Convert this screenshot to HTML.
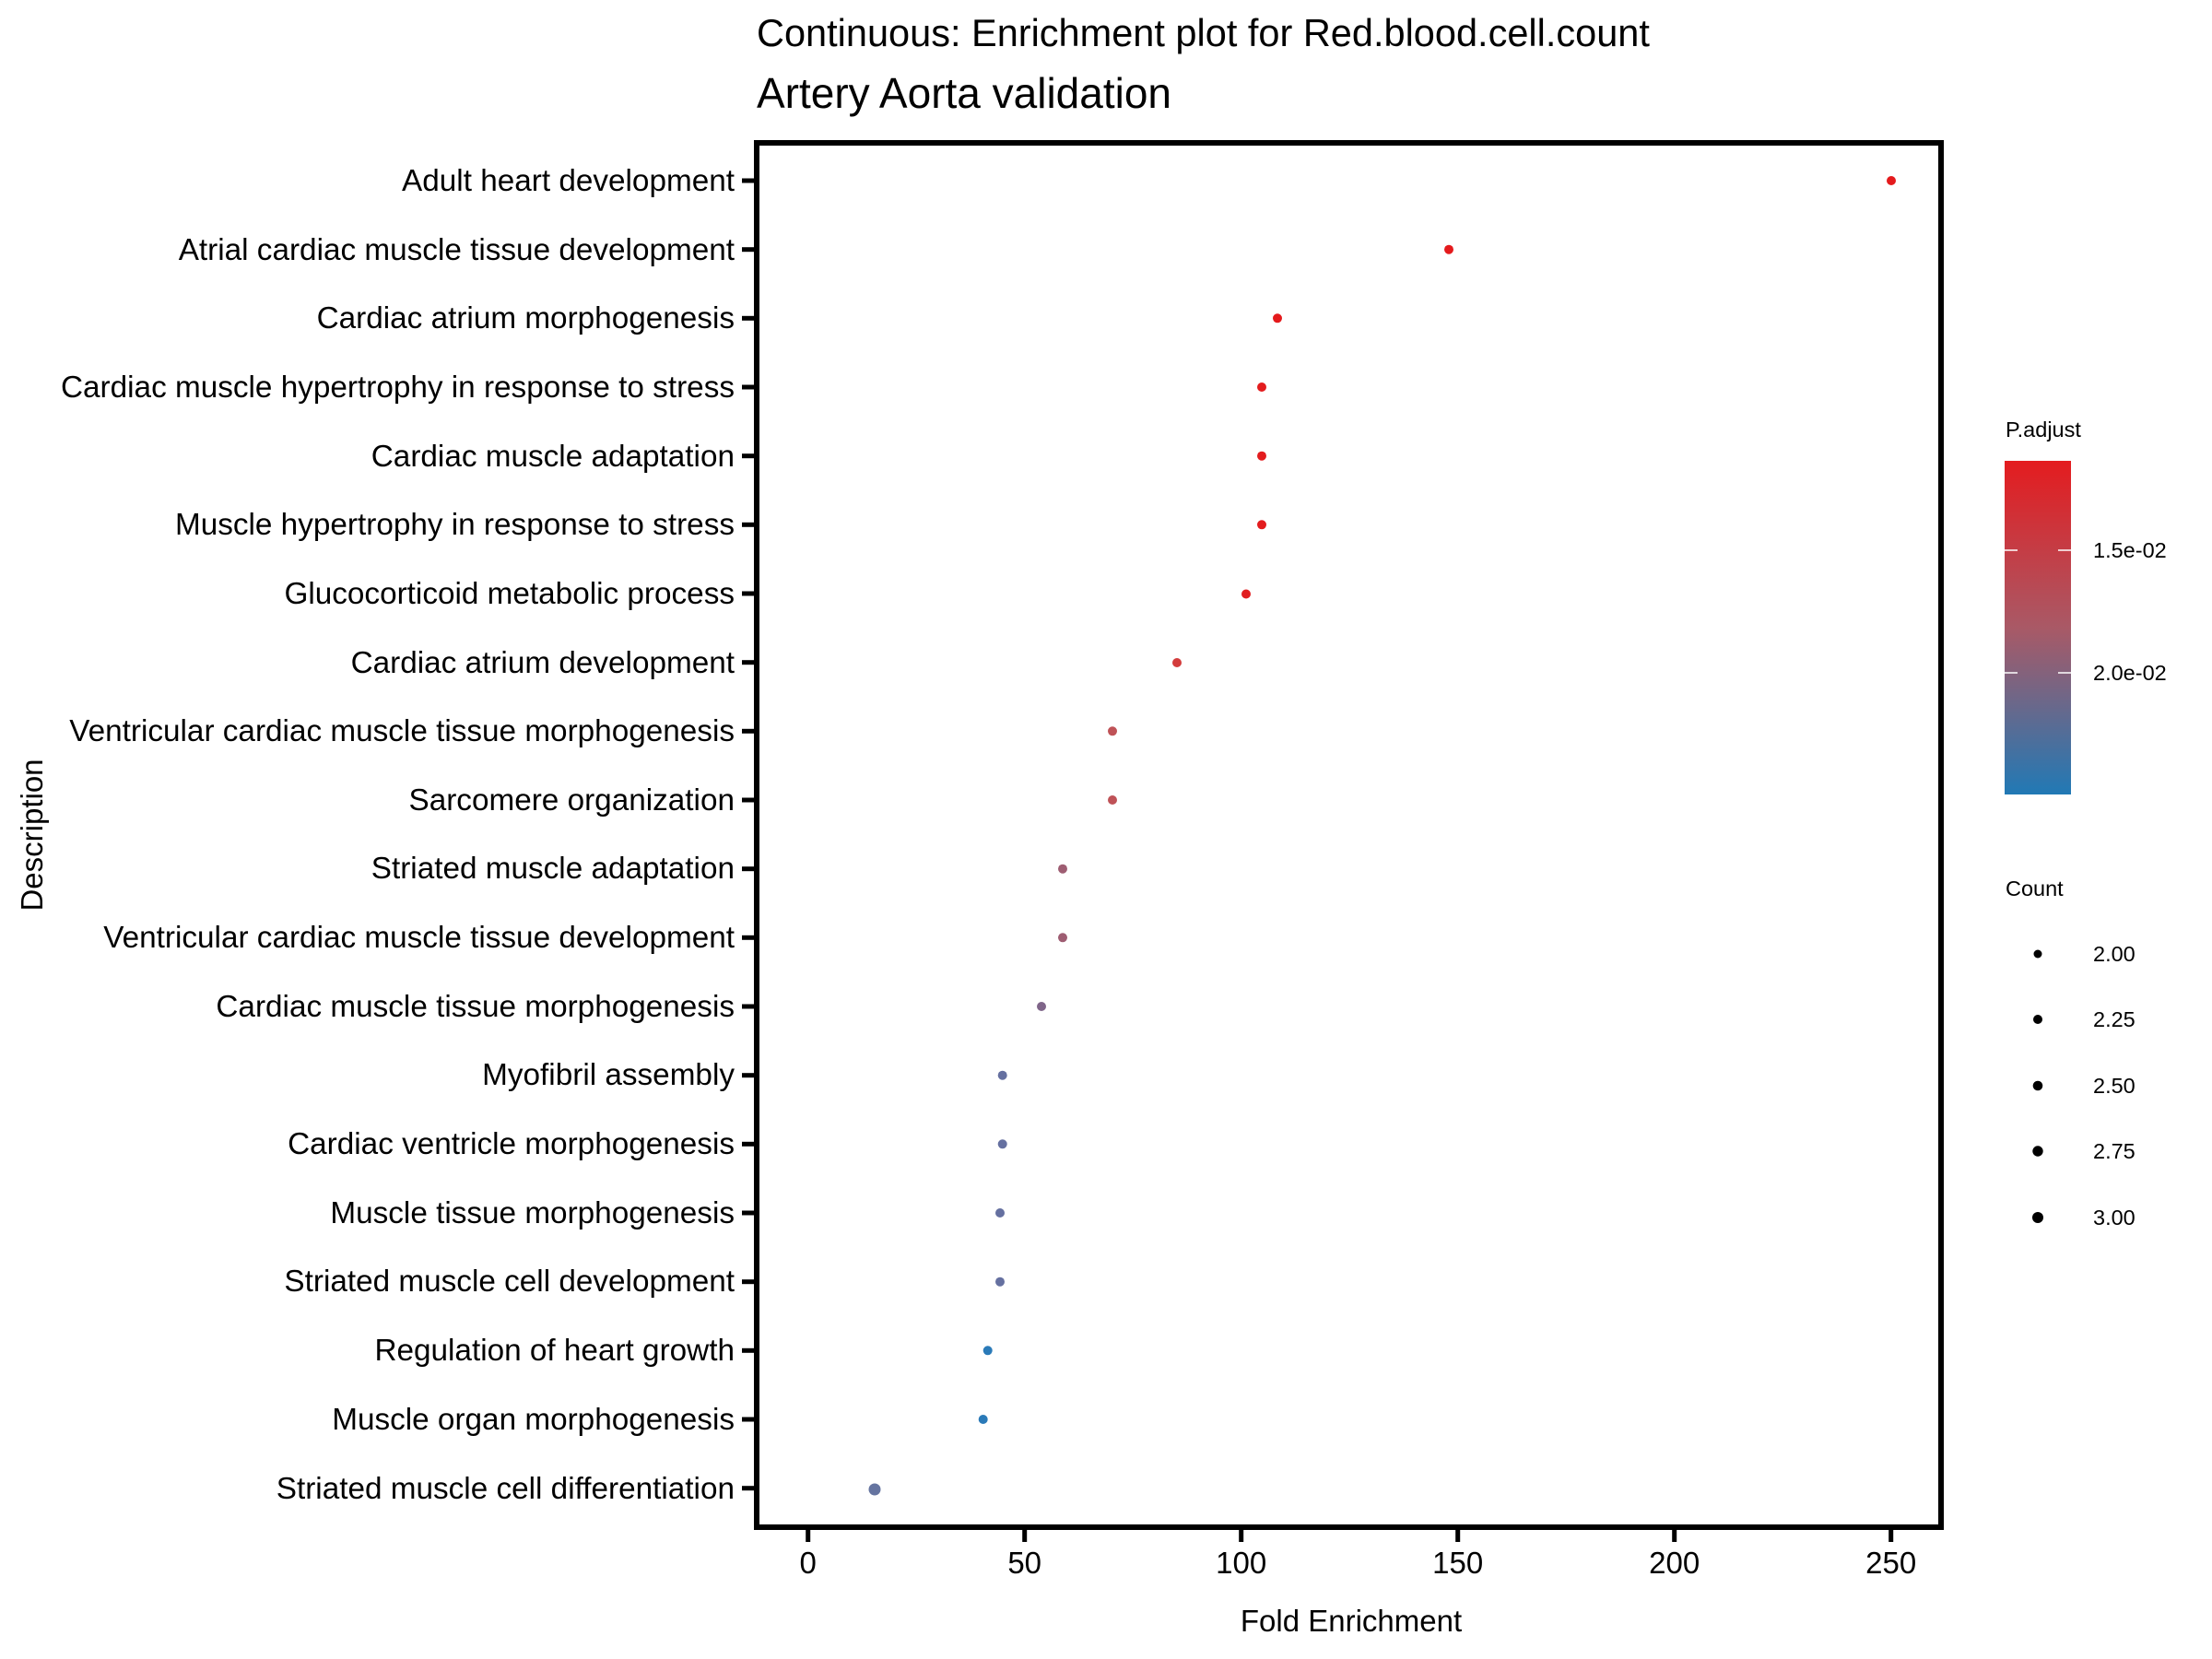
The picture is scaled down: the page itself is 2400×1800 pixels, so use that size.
<!DOCTYPE html>
<html><head><meta charset="utf-8"><style>html,body{margin:0;padding:0;background:#fff}svg{display:block}text{font-family:"Liberation Sans",sans-serif;fill:#000}</style></head>
<body>
<svg width="2400" height="1800" viewBox="0 0 2400 1800" xmlns="http://www.w3.org/2000/svg">
<defs><linearGradient id="g" x1="0" y1="0" x2="0" y2="1"><stop offset="0" stop-color="#e41c1f"/><stop offset="0.5" stop-color="#a95966"/><stop offset="1" stop-color="#2179b5"/></linearGradient></defs>
<rect width="2400" height="1800" fill="#fff"/>
<text x="821" y="50" font-size="41.5">Continuous: Enrichment plot for Red.blood.cell.count</text>
<text x="821" y="117" font-size="46">Artery Aorta validation</text>
<g font-size="33.3" text-anchor="end">
<text x="797" y="207">Adult heart development</text>
<text x="797" y="282">Atrial cardiac muscle tissue development</text>
<text x="797" y="356">Cardiac atrium morphogenesis</text>
<text x="797" y="431">Cardiac muscle hypertrophy in response to stress</text>
<text x="797" y="506">Cardiac muscle adaptation</text>
<text x="797" y="580">Muscle hypertrophy in response to stress</text>
<text x="797" y="655">Glucocorticoid metabolic process</text>
<text x="797" y="730">Cardiac atrium development</text>
<text x="797" y="804">Ventricular cardiac muscle tissue morphogenesis</text>
<text x="797" y="879">Sarcomere organization</text>
<text x="797" y="953">Striated muscle adaptation</text>
<text x="797" y="1028">Ventricular cardiac muscle tissue development</text>
<text x="797" y="1103">Cardiac muscle tissue morphogenesis</text>
<text x="797" y="1177">Myofibril assembly</text>
<text x="797" y="1252">Cardiac ventricle morphogenesis</text>
<text x="797" y="1327">Muscle tissue morphogenesis</text>
<text x="797" y="1401">Striated muscle cell development</text>
<text x="797" y="1476">Regulation of heart growth</text>
<text x="797" y="1551">Muscle organ morphogenesis</text>
<text x="797" y="1626">Striated muscle cell differentiation</text>
</g>
<g stroke="#000" stroke-width="5">
<line x1="805" x2="821" y1="196" y2="196"/><line x1="805" x2="821" y1="270.7" y2="270.7"/><line x1="805" x2="821" y1="345.3" y2="345.3"/><line x1="805" x2="821" y1="420" y2="420"/><line x1="805" x2="821" y1="494.7" y2="494.7"/><line x1="805" x2="821" y1="569.3" y2="569.3"/><line x1="805" x2="821" y1="644" y2="644"/><line x1="805" x2="821" y1="718.7" y2="718.7"/><line x1="805" x2="821" y1="793.3" y2="793.3"/><line x1="805" x2="821" y1="868" y2="868"/><line x1="805" x2="821" y1="942.7" y2="942.7"/><line x1="805" x2="821" y1="1017.3" y2="1017.3"/><line x1="805" x2="821" y1="1092" y2="1092"/><line x1="805" x2="821" y1="1166.7" y2="1166.7"/><line x1="805" x2="821" y1="1241.3" y2="1241.3"/><line x1="805" x2="821" y1="1316" y2="1316"/><line x1="805" x2="821" y1="1390.7" y2="1390.7"/><line x1="805" x2="821" y1="1465.3" y2="1465.3"/><line x1="805" x2="821" y1="1540" y2="1540"/><line x1="805" x2="821" y1="1614.7" y2="1614.7"/>
<line x1="876.7" x2="876.7" y1="1657" y2="1673"/><line x1="1111.7" x2="1111.7" y1="1657" y2="1673"/><line x1="1346.7" x2="1346.7" y1="1657" y2="1673"/><line x1="1581.7" x2="1581.7" y1="1657" y2="1673"/><line x1="1816.7" x2="1816.7" y1="1657" y2="1673"/><line x1="2051.7" x2="2051.7" y1="1657" y2="1673"/>
</g>
<rect x="821" y="155" width="1285" height="1502" fill="none" stroke="#000" stroke-width="6"/>
<g font-size="33" text-anchor="middle">
<text x="876.7" y="1707">0</text><text x="1111.7" y="1707">50</text><text x="1346.7" y="1707">100</text><text x="1581.7" y="1707">150</text><text x="1816.7" y="1707">200</text><text x="2051.7" y="1707">250</text>
<text x="1466" y="1770">Fold Enrichment</text>
<text transform="translate(46,906) rotate(-90)">Description</text>
</g>
<g>
<circle cx="2052" cy="196" r="5" fill="#e41a1c"/>
<circle cx="1572" cy="270.7" r="5" fill="#e41a1c"/>
<circle cx="1386" cy="345.3" r="5" fill="#e41a1c"/>
<circle cx="1369" cy="420" r="5" fill="#e31c1e"/>
<circle cx="1369" cy="494.7" r="5" fill="#e31c1e"/>
<circle cx="1369" cy="569.3" r="5" fill="#e31c1e"/>
<circle cx="1352" cy="644.5" r="5" fill="#e11e20"/>
<circle cx="1277" cy="719" r="5" fill="#d33c3c"/>
<circle cx="1207" cy="793.3" r="5" fill="#bf5257"/>
<circle cx="1207" cy="868" r="5" fill="#bf5257"/>
<circle cx="1153" cy="942.7" r="5" fill="#9e5d72"/>
<circle cx="1153" cy="1017.3" r="5" fill="#9e5d72"/>
<circle cx="1130" cy="1092" r="5" fill="#7f6589"/>
<circle cx="1087.7" cy="1166.7" r="5" fill="#6570a0"/>
<circle cx="1087.7" cy="1241.3" r="5" fill="#6570a0"/>
<circle cx="1085" cy="1316" r="5" fill="#6570a0"/>
<circle cx="1085" cy="1390.7" r="5" fill="#6570a0"/>
<circle cx="1071.7" cy="1465.3" r="5" fill="#2a7ab8"/>
<circle cx="1066.7" cy="1540" r="5" fill="#2a7ab8"/>
<circle cx="949" cy="1616" r="6.5" fill="#6574a0"/>
</g>
<text x="2176" y="474" font-size="23.5">P.adjust</text>
<rect x="2175" y="500" width="72" height="362" fill="url(#g)"/>
<g stroke="#fff" stroke-width="1.5">
<line x1="2175" x2="2189" y1="597" y2="597"/><line x1="2233" x2="2247" y1="597" y2="597"/>
<line x1="2175" x2="2189" y1="730" y2="730"/><line x1="2233" x2="2247" y1="730" y2="730"/>
</g>
<g font-size="23.5">
<text x="2271" y="605">1.5e-02</text>
<text x="2271" y="738">2.0e-02</text>
<text x="2176" y="972">Count</text>
<text x="2271" y="1043">2.00</text>
<text x="2271" y="1114">2.25</text>
<text x="2271" y="1186">2.50</text>
<text x="2271" y="1257">2.75</text>
<text x="2271" y="1329">3.00</text>
</g>
<circle cx="2211" cy="1035" r="4.5" fill="#000"/>
<circle cx="2211" cy="1106" r="5" fill="#000"/>
<circle cx="2211" cy="1178" r="5.3" fill="#000"/>
<circle cx="2211" cy="1249" r="5.7" fill="#000"/>
<circle cx="2211" cy="1321" r="6" fill="#000"/>
</svg>
</body></html>
